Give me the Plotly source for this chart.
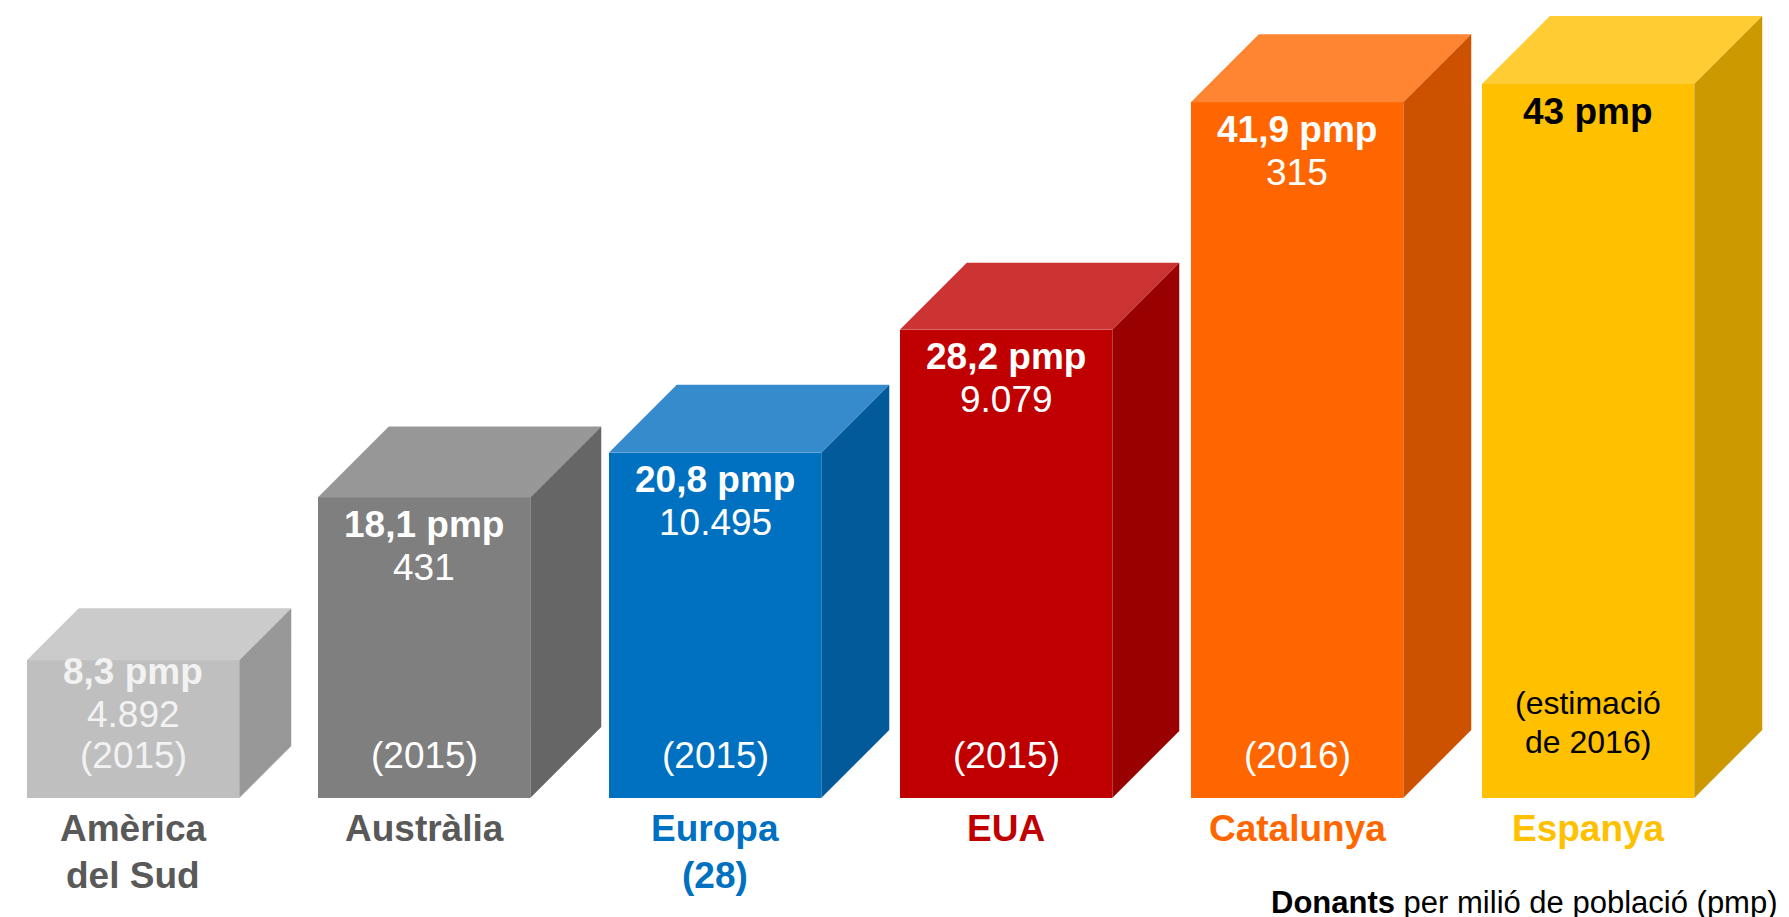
import plotly.graph_objects as go

# ---- data ----
categories = ["Amèrica<br>del Sud", "Austràlia", "Europa<br>(28)", "EUA", "Catalunya", "Espanya"]
pmp_values = [8.3, 18.1, 20.8, 28.2, 41.9, 43]
pmp_labels = ["8,3 pmp", "18,1 pmp", "20,8 pmp", "28,2 pmp", "41,9 pmp", "43 pmp"]
donor_counts = ["4.892", "431", "10.495", "9.079", "315", ""]
years = ["(2015)", "(2015)", "(2015)", "(2015)", "(2016)", "(estimació<br>de 2016)"]
footnote_bold = "Donants"
footnote_rest = " per milió de població (pmp)"

# ---- styles ----
FRONT = ["#BFBFBF", "#7F7F7F", "#0070C0", "#C00000", "#FF6600", "#FFC000"]
TOP = ["#CBCBCB", "#979797", "#358BCC", "#CC3333", "#FF8533", "#FFCC33"]
SIDE = ["#989898", "#666666", "#025A9B", "#990000", "#CC5200", "#CC9A00"]
TEXT = ["#F2F2F2", "#FFFFFF", "#FFFFFF", "#FFFFFF", "#FFFFFF", "#000000"]
LABEL = ["#595959", "#595959", "#0070C0", "#C00000", "#FF6600", "#FFC000"]
DEPTH_PX = [52, 71, 68, 67, 68, 68]

W, H = 1789, 917
X_RANGE = [-0.4296, 5.718]
Y_RANGE = [-7.65, 47.58]
BAR_W = 0.73
FONT = "Liberation Sans, Arial, sans-serif"

xu = (X_RANGE[1] - X_RANGE[0]) / W   # data units per pixel (x)
yu = (Y_RANGE[1] - Y_RANGE[0]) / H   # data units per pixel (y)


def ypx(p):
    """pixel row -> y data value"""
    return Y_RANGE[1] - p * yu


fig = go.Figure()
xs = list(range(len(categories)))

fig.add_trace(go.Bar(
    x=xs, y=pmp_values, width=BAR_W,
    marker=dict(color=FRONT, line=dict(width=0)),
    hoverinfo="skip", showlegend=False,
))

annotations = []
for i, v in enumerate(pmp_values):
    hw = BAR_W / 2
    dx = DEPTH_PX[i] * xu
    dy = DEPTH_PX[i] * yu
    # top face
    fig.add_trace(go.Scatter(
        x=[i - hw, i + hw, i + hw + dx, i - hw + dx, i - hw],
        y=[v, v, v + dy, v + dy, v],
        fill="toself", fillcolor=TOP[i], mode="lines",
        line=dict(width=0, color=TOP[i]), hoverinfo="skip", showlegend=False,
    ))
    # side face
    fig.add_trace(go.Scatter(
        x=[i + hw, i + hw + dx, i + hw + dx, i + hw, i + hw],
        y=[0, dy, v + dy, v, 0],
        fill="toself", fillcolor=SIDE[i], mode="lines",
        line=dict(width=0, color=SIDE[i]), hoverinfo="skip", showlegend=False,
    ))

    # texts inside the front face
    top_px = (Y_RANGE[1] - v) / yu
    year_lines = years[i].split("<br>")
    n = len(year_lines)
    first_year_px = 747 - (n - 1) * 52
    l1 = top_px + 27
    if donor_counts[i]:
        l1 = min(l1, first_year_px - 84)
    annotations.append(dict(
        x=i, y=ypx(l1), xref="x", yref="y", text="<b>" + pmp_labels[i] + "</b>",
        showarrow=False, font=dict(family=FONT, size=37, color=TEXT[i]),
        xanchor="center", yanchor="middle"))
    if donor_counts[i]:
        annotations.append(dict(
            x=i, y=ypx(l1 + 43), xref="x", yref="y", text=donor_counts[i],
            showarrow=False, font=dict(family=FONT, size=37, color=TEXT[i]),
            xanchor="center", yanchor="middle"))
    for k, line in enumerate(year_lines):
        annotations.append(dict(
            x=i, y=ypx(first_year_px + k * 39), xref="x", yref="y", text=line,
            showarrow=False,
            font=dict(family=FONT, size=37 if n == 1 else 32, color=TEXT[i]),
            xanchor="center", yanchor="middle"))

    # category labels below
    for k, line in enumerate(categories[i].split("<br>")):
        annotations.append(dict(
            x=i, y=ypx(820 + k * 47), xref="x", yref="y", text="<b>" + line + "</b>",
            showarrow=False, font=dict(family=FONT, size=37, color=LABEL[i]),
            xanchor="center", yanchor="middle"))

annotations.append(dict(
    x=1772 / W, y=1 - 894 / H, xref="paper", yref="paper",
    text="<b>" + footnote_bold + "</b>" + footnote_rest,
    showarrow=False, font=dict(family=FONT, size=31, color="#000000"),
    xanchor="right", yanchor="middle"))

fig.update_layout(
    width=W, height=H,
    margin=dict(l=0, r=0, t=0, b=0),
    paper_bgcolor="white", plot_bgcolor="white",
    xaxis=dict(range=X_RANGE, visible=False, fixedrange=True),
    yaxis=dict(range=Y_RANGE, visible=False, fixedrange=True),
    annotations=annotations,
    bargap=0,
    showlegend=False,
)

fig.write_html("out.html")
